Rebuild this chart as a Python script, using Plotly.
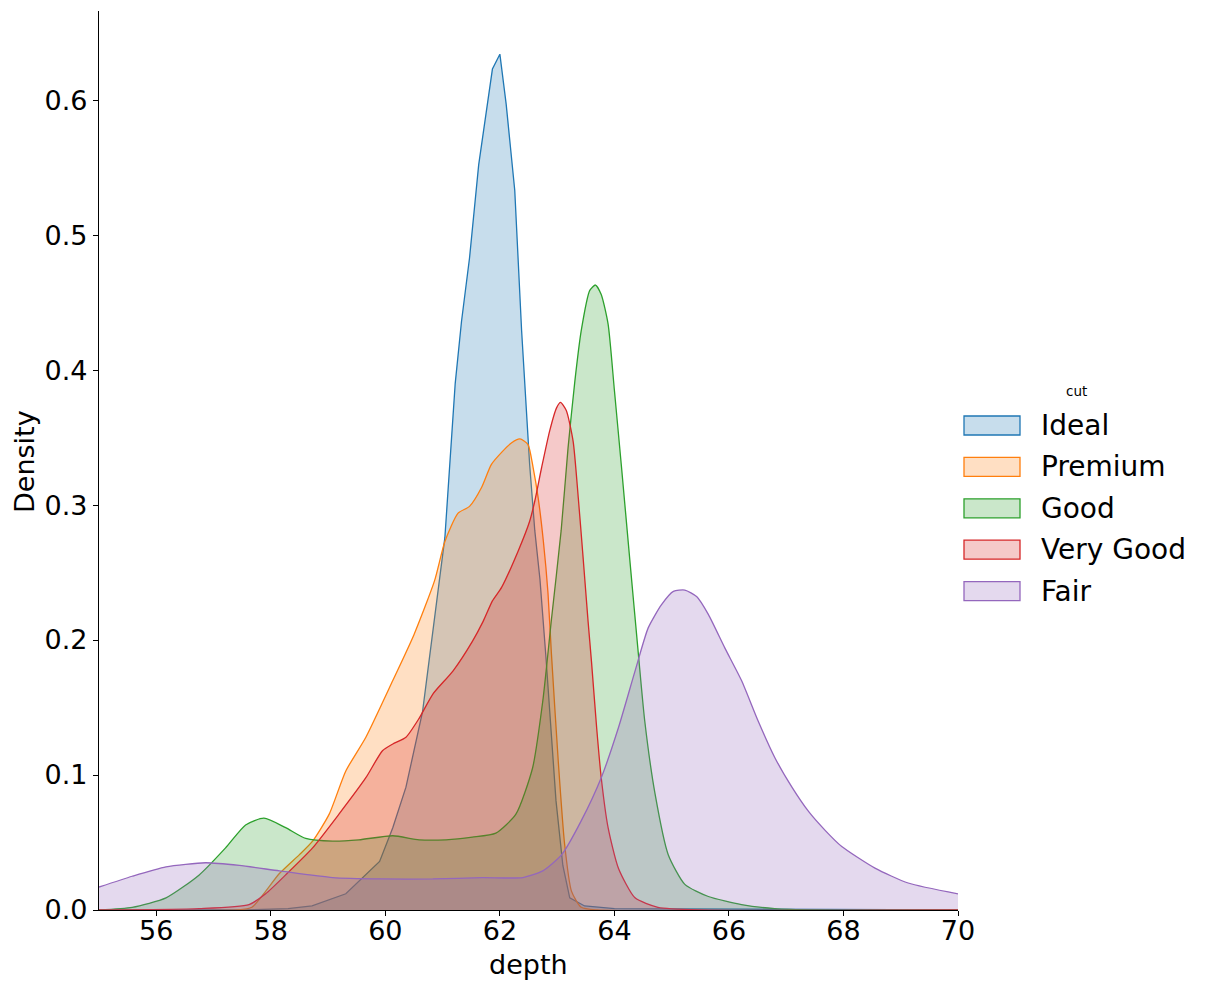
import plotly.graph_objects as go

# values (depth vs density, one KDE per cut)
ideal_x = [55.0, 57.5, 58.3, 58.72, 59.31, 59.9, 60.13, 60.36, 60.65, 60.88, 61.04, 61.22, 61.33, 61.47,
           61.63, 61.87, 62.0, 62.11, 62.26, 62.38, 62.52, 62.61, 62.7, 62.8, 62.9, 62.98, 63.1, 63.22,
           63.48, 64.0, 70.0]
ideal_y = [0, 0, 0.001, 0.003, 0.012, 0.036, 0.061, 0.091, 0.147, 0.222, 0.276, 0.39, 0.436, 0.483,
           0.552, 0.623, 0.634, 0.597, 0.533, 0.429, 0.33, 0.281, 0.245, 0.19, 0.125, 0.081, 0.033, 0.009,
           0.003, 0.001, 0]

premium_x = [55.0, 57.4, 57.67, 58.15, 58.5, 58.73, 59.02, 59.31, 59.66, 60.13, 60.5, 60.86,
             61.04, 61.27, 61.47, 61.68, 61.85, 62.03, 62.2, 62.35, 62.49, 62.58, 62.67, 62.76, 62.84,
             62.9, 63.02, 63.13, 63.25, 63.42, 63.7, 70.0]
premium_y = [0, 0, 0.002, 0.027, 0.041, 0.051, 0.071, 0.103, 0.128, 0.17, 0.204, 0.244,
             0.273, 0.294, 0.299, 0.313, 0.33, 0.339, 0.346, 0.349, 0.345, 0.328, 0.305, 0.273, 0.235,
             0.19, 0.11, 0.049, 0.014, 0.002, 0, 0]

good_x = [55.0, 55.58, 56.17, 56.75, 57.21, 57.56, 57.88, 58.26, 58.61, 59.08, 59.54, 60.13, 60.59,
          61.06, 61.52, 61.93, 62.28, 62.57, 62.75, 62.9, 63.07, 63.19, 63.31, 63.42, 63.57, 63.67,
          63.77, 63.89, 64.0, 64.12, 64.27, 64.42, 64.53, 64.71, 64.94, 65.23, 65.64, 66.22, 66.8,
          67.5, 70.0]
good_y = [0, 0.002, 0.009, 0.026, 0.046, 0.063, 0.068, 0.061, 0.053, 0.051, 0.052, 0.055, 0.052,
          0.052, 0.054, 0.057, 0.071, 0.105, 0.155, 0.215, 0.281, 0.342, 0.392, 0.429, 0.459, 0.463,
          0.456, 0.434, 0.385, 0.33, 0.259, 0.189, 0.14, 0.086, 0.041, 0.019, 0.01, 0.004, 0.001,
          0, 0]

verygood_x = [55.0, 56.75, 57.62, 57.91, 58.26, 58.73, 59.19, 59.66, 59.95, 60.13, 60.36, 60.59,
              60.83, 61.18, 61.52, 61.71, 61.87, 62.03, 62.32, 62.52, 62.61, 62.73, 62.87, 62.99,
              63.06, 63.16, 63.28, 63.37, 63.45, 63.54, 63.6, 63.69, 63.77, 63.89, 64.07, 64.36,
              64.76, 65.5, 70.0]
verygood_y = [0, 0.001, 0.004, 0.012, 0.026, 0.046, 0.071, 0.098, 0.118, 0.123, 0.128, 0.142,
              0.16, 0.177, 0.199, 0.214, 0.229, 0.239, 0.266, 0.288, 0.303, 0.328, 0.355, 0.372,
              0.376, 0.37, 0.347, 0.305, 0.263, 0.214, 0.184, 0.135, 0.098, 0.061, 0.031, 0.009,
              0.002, 0, 0]

fair_x = [55.0, 55.58, 56.17, 56.86, 57.45, 58.15, 59.08, 59.95, 60.83, 61.7, 62.4, 62.75, 63.08,
          63.42, 63.77, 64.07, 64.36, 64.59, 64.82, 65.03, 65.23, 65.44, 65.64, 65.93, 66.22, 66.51,
          66.8, 67.1, 67.39, 67.68, 67.97, 68.55, 69.13, 70.0]
fair_y = [0.017, 0.025, 0.032, 0.035, 0.033, 0.029, 0.024, 0.023, 0.023, 0.024, 0.024, 0.029, 0.041,
          0.066, 0.098, 0.135, 0.177, 0.209, 0.226, 0.236, 0.237, 0.232, 0.219, 0.194, 0.17, 0.14,
          0.113, 0.091, 0.073, 0.059, 0.047, 0.031, 0.02, 0.012]

cuts = ['Ideal', 'Premium', 'Good', 'Very Good', 'Fair']
colors = ['31,119,180', '255,127,14', '44,160,44', '214,39,40', '148,103,189']
xs = [ideal_x, premium_x, good_x, verygood_x, fair_x]
ys = [ideal_y, premium_y, good_y, verygood_y, fair_y]

font = 'DejaVu Sans'
PW, PH = 859, 899  # plot area in px

fig = go.Figure()
for name, c, x, y in zip(cuts, colors, xs, ys):
    shape = 'linear' if name == 'Ideal' else 'spline'
    fig.add_trace(go.Scatter(x=x, y=y, name=name, mode='lines', fill='tozeroy',
                             fillcolor=f'rgba({c},0.25)', showlegend=False,
                             line=dict(color=f'rgb({c})', width=1.3, shape=shape, smoothing=0.6)))


# matplotlib-style legend: boxes + labels placed right of the axes
def px_x(p):
    return p / PW


def px_y(p):
    return 1 - p / PH


shapes, annotations = [], []
for i, (name, c) in enumerate(zip(cuts, colors)):
    cy = 414.5 + i * 41.4
    shapes.append(dict(type='rect', xref='paper', yref='paper',
                       x0=px_x(865), x1=px_x(921), y0=px_y(cy - 9.5), y1=px_y(cy + 9.5),
                       fillcolor=f'rgba({c},0.25)', line=dict(color=f'rgb({c})', width=1.3)))
    annotations.append(dict(text=name, xref='paper', yref='paper', x=px_x(940), y=px_y(cy),
                            xanchor='left', yanchor='middle', showarrow=False,
                            font=dict(size=28)))
annotations.append(dict(text='cut', xref='paper', yref='paper', x=px_x(977), y=px_y(380),
                        xanchor='center', yanchor='middle', showarrow=False, font=dict(size=13.5)))
annotations.append(dict(text='depth', xref='paper', yref='paper', x=0.5, y=px_y(953),
                        xanchor='center', yanchor='middle', showarrow=False, font=dict(size=27)))
annotations.append(dict(text='Density', xref='paper', yref='paper', x=px_x(-75), y=px_y(451),
                        xanchor='center', yanchor='middle', showarrow=False, textangle=-90,
                        borderpad=0, font=dict(size=27)))

fig.update_layout(
    width=1195, height=974,
    margin=dict(l=91, r=1195 - 91 - PW, t=3, b=974 - 3 - PH),
    paper_bgcolor='white', plot_bgcolor='white',
    font=dict(family=font, size=27, color='black'),
    showlegend=False,
    shapes=shapes, annotations=annotations,
    xaxis=dict(range=[55, 70], tickvals=list(range(56, 71, 2)), showline=True, linecolor='black',
               linewidth=1.2, ticks='outside', ticklen=5, tickwidth=1.2, tickcolor='black',
               ticklabelstandoff=-9,
               showgrid=False, zeroline=False, automargin=False),
    yaxis=dict(range=[0, 0.666], tickvals=[0, 0.1, 0.2, 0.3, 0.4, 0.5, 0.6], tickformat='.1f',
               showline=True, linecolor='black', linewidth=1.2, ticks='outside', ticklen=5,
               tickwidth=1.2, tickcolor='black', showgrid=False, zeroline=False, automargin=False),
)

fig.write_html("out.html")
